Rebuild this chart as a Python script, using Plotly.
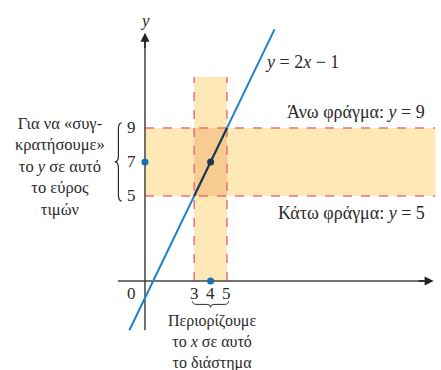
import plotly.graph_objects as go

# Function and the windows on x and y
slope, intercept = 2, -1
line_x = [-0.95, 7.9]
x_window = [3, 5]
y_window = [5, 9]
point_x, point_y = 4, 7
x_tick_vals = [3, 4, 5]
y_tick_vals = [5, 7, 9]
band_right = 17.7
x_band_top = 12

FONT = "Liberation Serif"
TXT = "#2a2a2a"
BAND = "#FDE8B6"
OVERLAP = "#F8CB90"
DASH = "#EE6F78"
BLUE = "#2180C6"
DARK = "#1D3850"
AXIS = "#444444"

fig = go.Figure()

line_y = [slope * v + intercept for v in line_x]
fig.add_trace(go.Scatter(x=line_x, y=line_y, mode="lines",
                         line=dict(color=BLUE, width=2), hoverinfo="skip"))
seg_y = [slope * v + intercept for v in x_window]
fig.add_trace(go.Scatter(x=x_window, y=seg_y, mode="lines",
                         line=dict(color=DARK, width=2), hoverinfo="skip"))
fig.add_trace(go.Scatter(x=[point_x], y=[point_y], mode="markers",
                         marker=dict(color=DARK, size=7), hoverinfo="skip"))
fig.add_trace(go.Scatter(x=[0, point_x], y=[point_y, 0], mode="markers",
                         marker=dict(color="#1C6FB3", size=7), hoverinfo="skip"))

shapes = []
# shaded bands
shapes.append(dict(type="rect", x0=0, x1=band_right, y0=y_window[0], y1=y_window[1],
                   fillcolor=BAND, line=dict(width=0), layer="below"))
shapes.append(dict(type="rect", x0=x_window[0], x1=x_window[1], y0=0, y1=x_band_top,
                   fillcolor=BAND, line=dict(width=0), layer="below"))
shapes.append(dict(type="rect", x0=x_window[0], x1=x_window[1], y0=y_window[0], y1=y_window[1],
                   fillcolor=OVERLAP, line=dict(width=0), layer="below"))
# dashed bounds
for yv in y_window:
    shapes.append(dict(type="line", x0=0, x1=band_right, y0=yv, y1=yv,
                       line=dict(color=DASH, width=1.5, dash="dash"), layer="below"))
for xv in x_window:
    shapes.append(dict(type="line", x0=xv, x1=xv, y0=0, y1=x_band_top,
                       line=dict(color=DASH, width=1.5, dash="dash"), layer="below"))
# axes
shapes.append(dict(type="line", x0=-1.65, x1=17.3, y0=0, y1=0,
                   line=dict(color=AXIS, width=1.5), layer="below"))
shapes.append(dict(type="line", x0=0, x1=0, y0=-2.9, y1=14.3,
                   line=dict(color=AXIS, width=1.5), layer="below"))
# brace beside the y window
shapes.append(dict(type="path",
                   path="M -1.42,9.3 Q -1.62,9.3 -1.62,8.95 L -1.62,7.35 Q -1.62,7 -1.85,7 "
                        "Q -1.62,7 -1.62,6.65 L -1.62,5.05 Q -1.62,4.7 -1.42,4.7",
                   line=dict(color=TXT, width=1.2)))
# brace under the x window
shapes.append(dict(type="path",
                   path="M 2.9,-1.2 Q 2.9,-1.38 3.15,-1.38 L 3.8,-1.38 Q 4,-1.38 4,-1.55 "
                        "Q 4,-1.38 4.2,-1.38 L 4.85,-1.38 Q 5.1,-1.38 5.1,-1.2",
                   line=dict(color=TXT, width=1)))

ann = []
# axis arrowheads
ann.append(dict(x=17.6, y=0, ax=16.6, ay=0, axref="x", ayref="y", xref="x", yref="y",
                showarrow=True, arrowhead=2, arrowsize=1.2, arrowwidth=1.5,
                arrowcolor="#222", text=""))
ann.append(dict(x=0, y=14.6, ax=0, ay=13.6, axref="x", ayref="y", xref="x", yref="y",
                showarrow=True, arrowhead=2, arrowsize=1.2, arrowwidth=1.5,
                arrowcolor="#222", text=""))


def label(x, y, text, size=15, **kw):
    ann.append(dict(x=x, y=y, text=text, showarrow=False,
                    font=dict(family=FONT, size=size, color=TXT), **kw))


label(0, 15.3, "<i>y</i>", 17)
label(-0.8, -0.75, "0", 17)
for v in x_tick_vals:
    label(v, -0.75, str(v), 17)
for v in y_tick_vals:
    label(-0.8, v, str(v), 17)

label(-5.2, 6.76, "Για να «συγ-<br>κρατήσουμε»<br>το <i>y</i> σε αυτό<br>το εύρος<br>τιμών", 16.5)
label(4.1, -3.6, "Περιορίζουμε<br>το <i>x</i> σε αυτό<br>το διάστημα", 16)
label(9.6, 12.9, "<i>y</i> = 2<i>x</i> − 1", 18)
label(17.2, 9.95, "Άνω φράγμα: <i>y</i> = 9", 18, xanchor="right")
label(17.2, 4.0, "Κάτω φράγμα: <i>y</i> = 5", 18, xanchor="right")

fig.update_layout(
    width=441, height=370, margin=dict(l=0, r=0, t=0, b=0),
    paper_bgcolor="white", plot_bgcolor="white", showlegend=False,
    xaxis=dict(range=[-8.84, 18.05], visible=False, fixedrange=True),
    yaxis=dict(range=[-5.24, 16.53], visible=False, fixedrange=True),
    shapes=shapes, annotations=ann,
)

fig.write_html("out.html")
